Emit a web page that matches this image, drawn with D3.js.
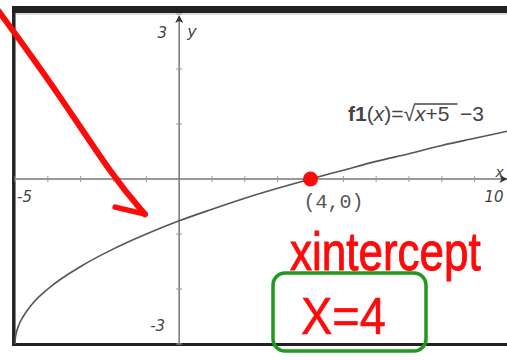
<!DOCTYPE html>
<html>
<head>
<meta charset="utf-8">
<script src="https://cdn.jsdelivr.net/npm/d3@7"></script>
<style>
  body { margin: 0; background: #fff; }
</style>
</head>
<body>
<svg class="graph"></svg>
<script>
// window domain of the graph screen
const xDomain = [-5, 10];
const yDomain = [-3, 3];
const xTicks = [-5, -4, -3, -2, -1, 1, 2, 3, 4, 5, 6, 7, 8, 9, 10];
const yTicks = [-3, -2, -1, 1, 2, 3];
const xTickLabels = ['-5', '10'];
const yTickLabels = ['3', '-3'];

// points
const curveX = [-5, -4.99, -4.96, -4.9, -4.75, -4.5, -4, -3, -2, -1, 0, 1, 2, 3, 4, 5, 6, 7, 8, 9, 10];
const curveY = [-3, -2.9, -2.8, -2.68, -2.5, -2.29, -2, -1.59, -1.27, -1.0, -0.76, -0.55, -0.35, -0.17, 0, 0.16, 0.32, 0.46, 0.61, 0.74, 0.87];

// annotations (in graph units)
const intercept = [4, 0];
const arrowLine = [[-5.52, 3.07], [-3.7, 1.58], [-1.95, -0.02], [-1.04, -0.64]];
const arrowBarb = [[-1.95, -0.51], [-1.04, -0.64]];

const width = 507, height = 360;

let svg = d3.select('.graph')
    .attr('width', width)
    .attr('height', height)
    .style('display', 'block');

let x = d3.scaleLinear().domain(xDomain).range([15, 507.5]);
let y = d3.scaleLinear().domain(yDomain).range([344, 14]);

const axisColor = '#777';
const labelColor = '#444';

// frame of the screen
svg.append('line')
    .attr('x1', 12).attr('x2', width).attr('y1', 9.5).attr('y2', 9.5)
    .style('stroke', '#222').style('stroke-width', 7);
svg.append('line')
    .attr('x1', 16).attr('x2', width).attr('y1', 14).attr('y2', 14)
    .style('stroke', '#bbb').style('stroke-width', 1);
svg.append('line')
    .attr('x1', 13.8).attr('x2', 13.8).attr('y1', 6).attr('y2', 346)
    .style('stroke', '#222').style('stroke-width', 3.5);
svg.append('line')
    .attr('x1', 12).attr('x2', width).attr('y1', 344.5).attr('y2', 344.5)
    .style('stroke', '#222').style('stroke-width', 3);

// axes
svg.append('line')
    .attr('x1', x(0)).attr('x2', x(0)).attr('y1', y(yDomain[1]) + 4).attr('y2', y(yDomain[0]))
    .style('stroke', axisColor).style('stroke-width', 1.5);
svg.append('line')
    .attr('x1', x(xDomain[0])).attr('x2', x(xDomain[1])).attr('y1', y(0)).attr('y2', y(0))
    .style('stroke', axisColor).style('stroke-width', 1.5);

// arrow heads
svg.append('path')
    .attr('d', `M${x(0)},${y(yDomain[1]) + 1} l-4,8 l4,-2 l4,2 Z`)
    .style('fill', '#333');
svg.append('path')
    .attr('d', `M${x(xDomain[1])},${y(0)} l-8,-4 l2,4 l-2,4 Z`)
    .style('fill', '#333');

// ticks
svg.selectAll('xtick')
    .data(xTicks)
    .enter().append('line')
    .attr('x1', d => x(d)).attr('x2', d => x(d))
    .attr('y1', y(0) - 3).attr('y2', y(0) + 3)
    .style('stroke', '#999').style('stroke-width', 1);
svg.selectAll('ytick')
    .data(yTicks)
    .enter().append('line')
    .attr('x1', x(0) - 3).attr('x2', x(0) + 3)
    .attr('y1', d => y(d)).attr('y2', d => y(d))
    .style('stroke', '#999').style('stroke-width', 1);

// window labels
const labelFont = '"DejaVu Sans", sans-serif';
svg.append('text')
    .attr('x', x(xDomain[0]) + 2).attr('y', y(0) + 23)
    .text(xTickLabels[0]);
svg.append('text')
    .attr('x', x(xDomain[1]) - 4).attr('y', y(0) + 23)
    .attr('text-anchor', 'end')
    .text(xTickLabels[1]);
svg.append('text')
    .attr('x', x(0) - 12).attr('y', y(yDomain[1]) + 24)
    .attr('text-anchor', 'end')
    .text(yTickLabels[0]);
svg.append('text')
    .attr('x', x(0) - 14).attr('y', y(yDomain[0]) - 13)
    .attr('text-anchor', 'end')
    .text(yTickLabels[1]);
svg.selectAll('text')
    .style('font-family', labelFont)
    .style('font-style', 'italic')
    .style('font-size', '15px')
    .style('fill', labelColor);

svg.append('text')
    .attr('x', x(0) + 8).attr('y', y(yDomain[1]) + 23)
    .text('y')
    .style('font-family', labelFont).style('font-style', 'italic')
    .style('font-size', '16px').style('fill', labelColor);
svg.append('text')
    .attr('x', x(xDomain[1]) - 12).attr('y', y(0) - 2)
    .text('x')
    .style('font-family', labelFont).style('font-style', 'italic')
    .style('font-size', '14px').style('fill', labelColor);

// the function curve
let line = d3.line()
    .x(d => x(d[0]))
    .y(d => y(d[1]))
    .curve(d3.curveMonotoneX);

svg.append('path')
    .datum(d3.zip(curveX, curveY))
    .attr('d', line)
    .style('fill', 'none')
    .style('stroke', '#555')
    .style('stroke-width', 1.6);

// function label f1(x)=sqrt(x+5) -3
let fx = 348, fy = 121;
const parts = [
    { t: 'f1', w: 'bold', italic: false },
    { t: '(', w: 'normal', italic: false },
    { t: 'x', w: 'normal', italic: true },
    { t: ')=', w: 'normal', italic: false },
    { t: '\u221A', w: 'normal', italic: false, root: true },
    { t: 'x', w: 'normal', italic: true, under: true },
    { t: '+5', w: 'normal', italic: false, under: true },
    { t: '\u2002\u22123', w: 'normal', italic: false }
];
let rootStart = null, rootEnd = null;
parts.forEach(p => {
    let t = svg.append('text')
        .attr('x', fx).attr('y', fy)
        .text(p.t)
        .style('font-family', '"Liberation Sans", Arial, sans-serif')
        .style('font-size', '21px')
        .style('font-weight', p.w)
        .style('font-style', p.italic ? 'italic' : 'normal')
        .style('fill', labelColor);
    let w = t.node().getComputedTextLength();
    if (p.under && rootStart === null) rootStart = fx;
    fx += w;
    if (p.under) rootEnd = fx + 8;
});
svg.append('line')
    .attr('x1', rootStart - 1).attr('x2', rootEnd)
    .attr('y1', fy - 17).attr('y2', fy - 17)
    .style('stroke', labelColor).style('stroke-width', 1.3);

// point label
svg.append('text')
    .attr('x', x(intercept[0]) - 7).attr('y', y(intercept[1]) + 29)
    .text('(4,0)')
    .style('font-family', '"Liberation Mono", "DejaVu Sans Mono", monospace')
    .style('font-size', '20px')
    .style('fill', '#555');

// red hand drawn annotations
const red = '#ff0a0a';
svg.append('path')
    .datum(arrowLine)
    .attr('d', d3.line().x(d => x(d[0])).y(d => y(d[1])).curve(d3.curveBasis))
    .style('fill', 'none')
    .style('stroke', red)
    .style('stroke-width', 6)
    .style('stroke-linecap', 'round');
svg.append('path')
    .datum(arrowBarb)
    .attr('d', d3.line().x(d => x(d[0])).y(d => y(d[1])))
    .style('fill', 'none')
    .style('stroke', red)
    .style('stroke-width', 5.5)
    .style('stroke-linecap', 'round');

svg.append('circle')
    .attr('cx', x(intercept[0]))
    .attr('cy', y(intercept[1]))
    .attr('r', 7.5)
    .style('fill', red);

svg.append('text')
    .attr('transform', 'translate(290,270) scale(1,1.22)')
    .text('xintercept')
    .style('font-family', '"Liberation Sans", Arial, sans-serif')
    .style('font-size', '44px')
    .style('fill', red)
    .style('stroke', red)
    .style('stroke-width', 0.8);

// green box with the answer
svg.append('rect')
    .attr('x', 273).attr('y', 273)
    .attr('width', 153).attr('height', 78)
    .attr('rx', 12)
    .style('fill', 'none')
    .style('stroke', '#1f9a1f')
    .style('stroke-width', 3.5);

svg.append('text')
    .attr('transform', 'translate(301,334) scale(1,1.12)')
    .text('X=4')
    .style('font-family', '"Liberation Sans", Arial, sans-serif')
    .style('font-size', '47px')
    .style('fill', red)
    .style('stroke', red)
    .style('stroke-width', 0.5);
</script>
</body>
</html>
